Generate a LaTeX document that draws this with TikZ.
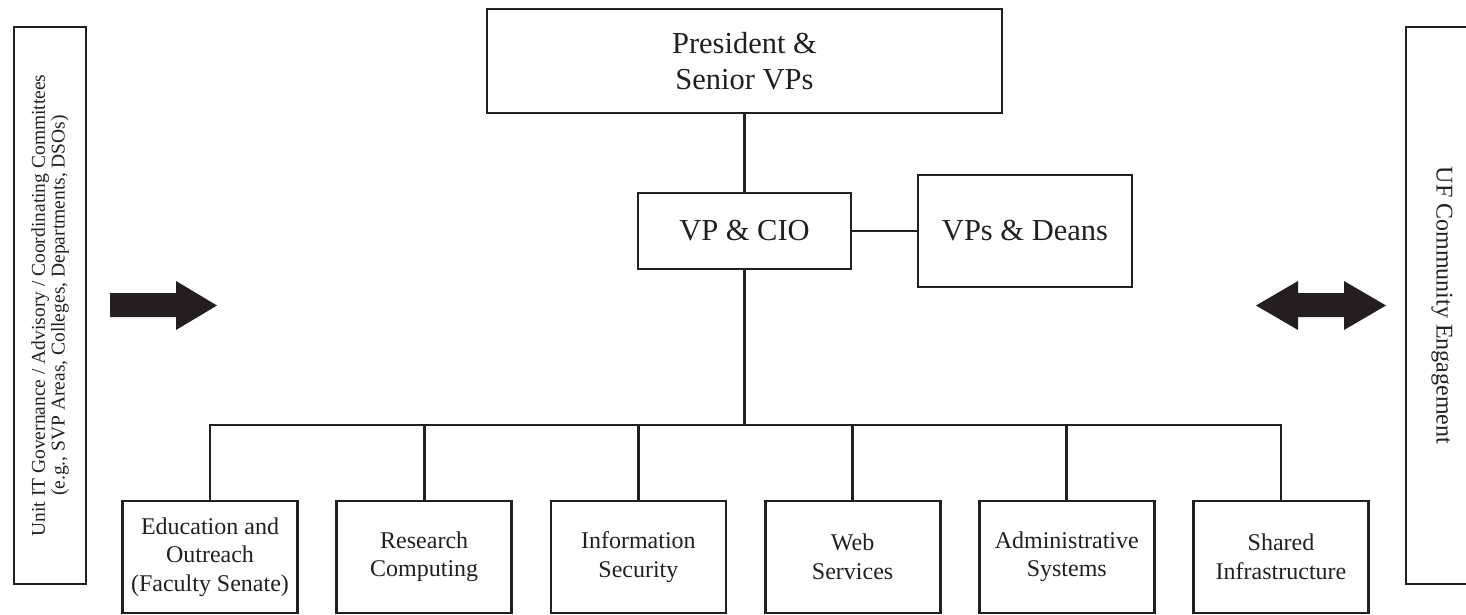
\documentclass[tikz,border=0pt]{standalone}
\usepackage{fontspec}
\setmainfont{Liberation Serif}
\definecolor{ink}{RGB}{35,31,32}

\begin{document}
\begin{tikzpicture}[x=0.5pt, y=-0.5pt, line width=1.4pt, draw=ink, text=ink,
	box/.style={draw=ink, line width=1.4pt, align=center, inner sep=0pt},
	bigbox/.style={box, font=\fontsize{15.25}{18}\selectfont},
	unitbox/.style={box, font=\fontsize{12}{14.25}\selectfont, minimum width=87.5pt, minimum height=56pt},
	sidebox/.style={box, minimum width=278.5pt, minimum height=36pt}]
	\useasboundingbox (0,0) rectangle (1466,615);
	% top
	\node[bigbox, minimum width=257.5pt, minimum height=52pt] (pres) at (744.5,61) {President \&\\Senior VPs};
	\node[bigbox, minimum width=106.5pt, minimum height=38pt] (cio) at (744.5,231) {VP \& CIO};
	\node[bigbox, minimum width=107pt, minimum height=56pt] (deans) at (1025,231) {VPs \& Deans};
	\coordinate (bus) at (744.5,425);
	\draw (pres) -- (cio);
	\draw (cio) -- (deans);
	\draw (cio) -- (bus);
	% units
	\foreach \i/\txt in {1/{Education and\\Outreach\\(Faculty Senate)}, 2/{Research\\Computing},
		3/{Information\\Security}, 4/{Web\\Services}, 5/{Administrative\\Systems}, 6/{Shared\\Infrastructure}}
		\node[unitbox] (unit\i) at ({210+214.2*(\i-1)},557) {\txt};
	\draw (unit1.north) |- (bus) -| (unit6.north);
	\foreach \i in {2,...,5}
		\draw (unit\i.north) -- (unit\i.north |- bus);
	% sides
	\node[sidebox, rotate=90, font=\fontsize{9.75}{8.5}\selectfont] (gov) at (50,305.5)
		{Unit IT Governance / Advisory / Coordinating Committees\\(e.g., SVP Areas, Colleges, Departments, DSOs)};
	\node[sidebox, rotate=-90, font=\fontsize{12}{14.25}\selectfont] (comm) at (1442,305.5) {UF Community Engagement};
	\fill[ink] (110,293) -- (176,293) -- (176,281) -- (217,305.5) -- (176,330) -- (176,317) -- (110,317) -- cycle;
	\fill[ink] (1256,305.5) -- (1298,281) -- (1298,293) -- (1344,293) -- (1344,281) -- (1386,305.5)
		-- (1344,330) -- (1344,317) -- (1298,317) -- (1298,330) -- cycle;
\end{tikzpicture}
\end{document}
